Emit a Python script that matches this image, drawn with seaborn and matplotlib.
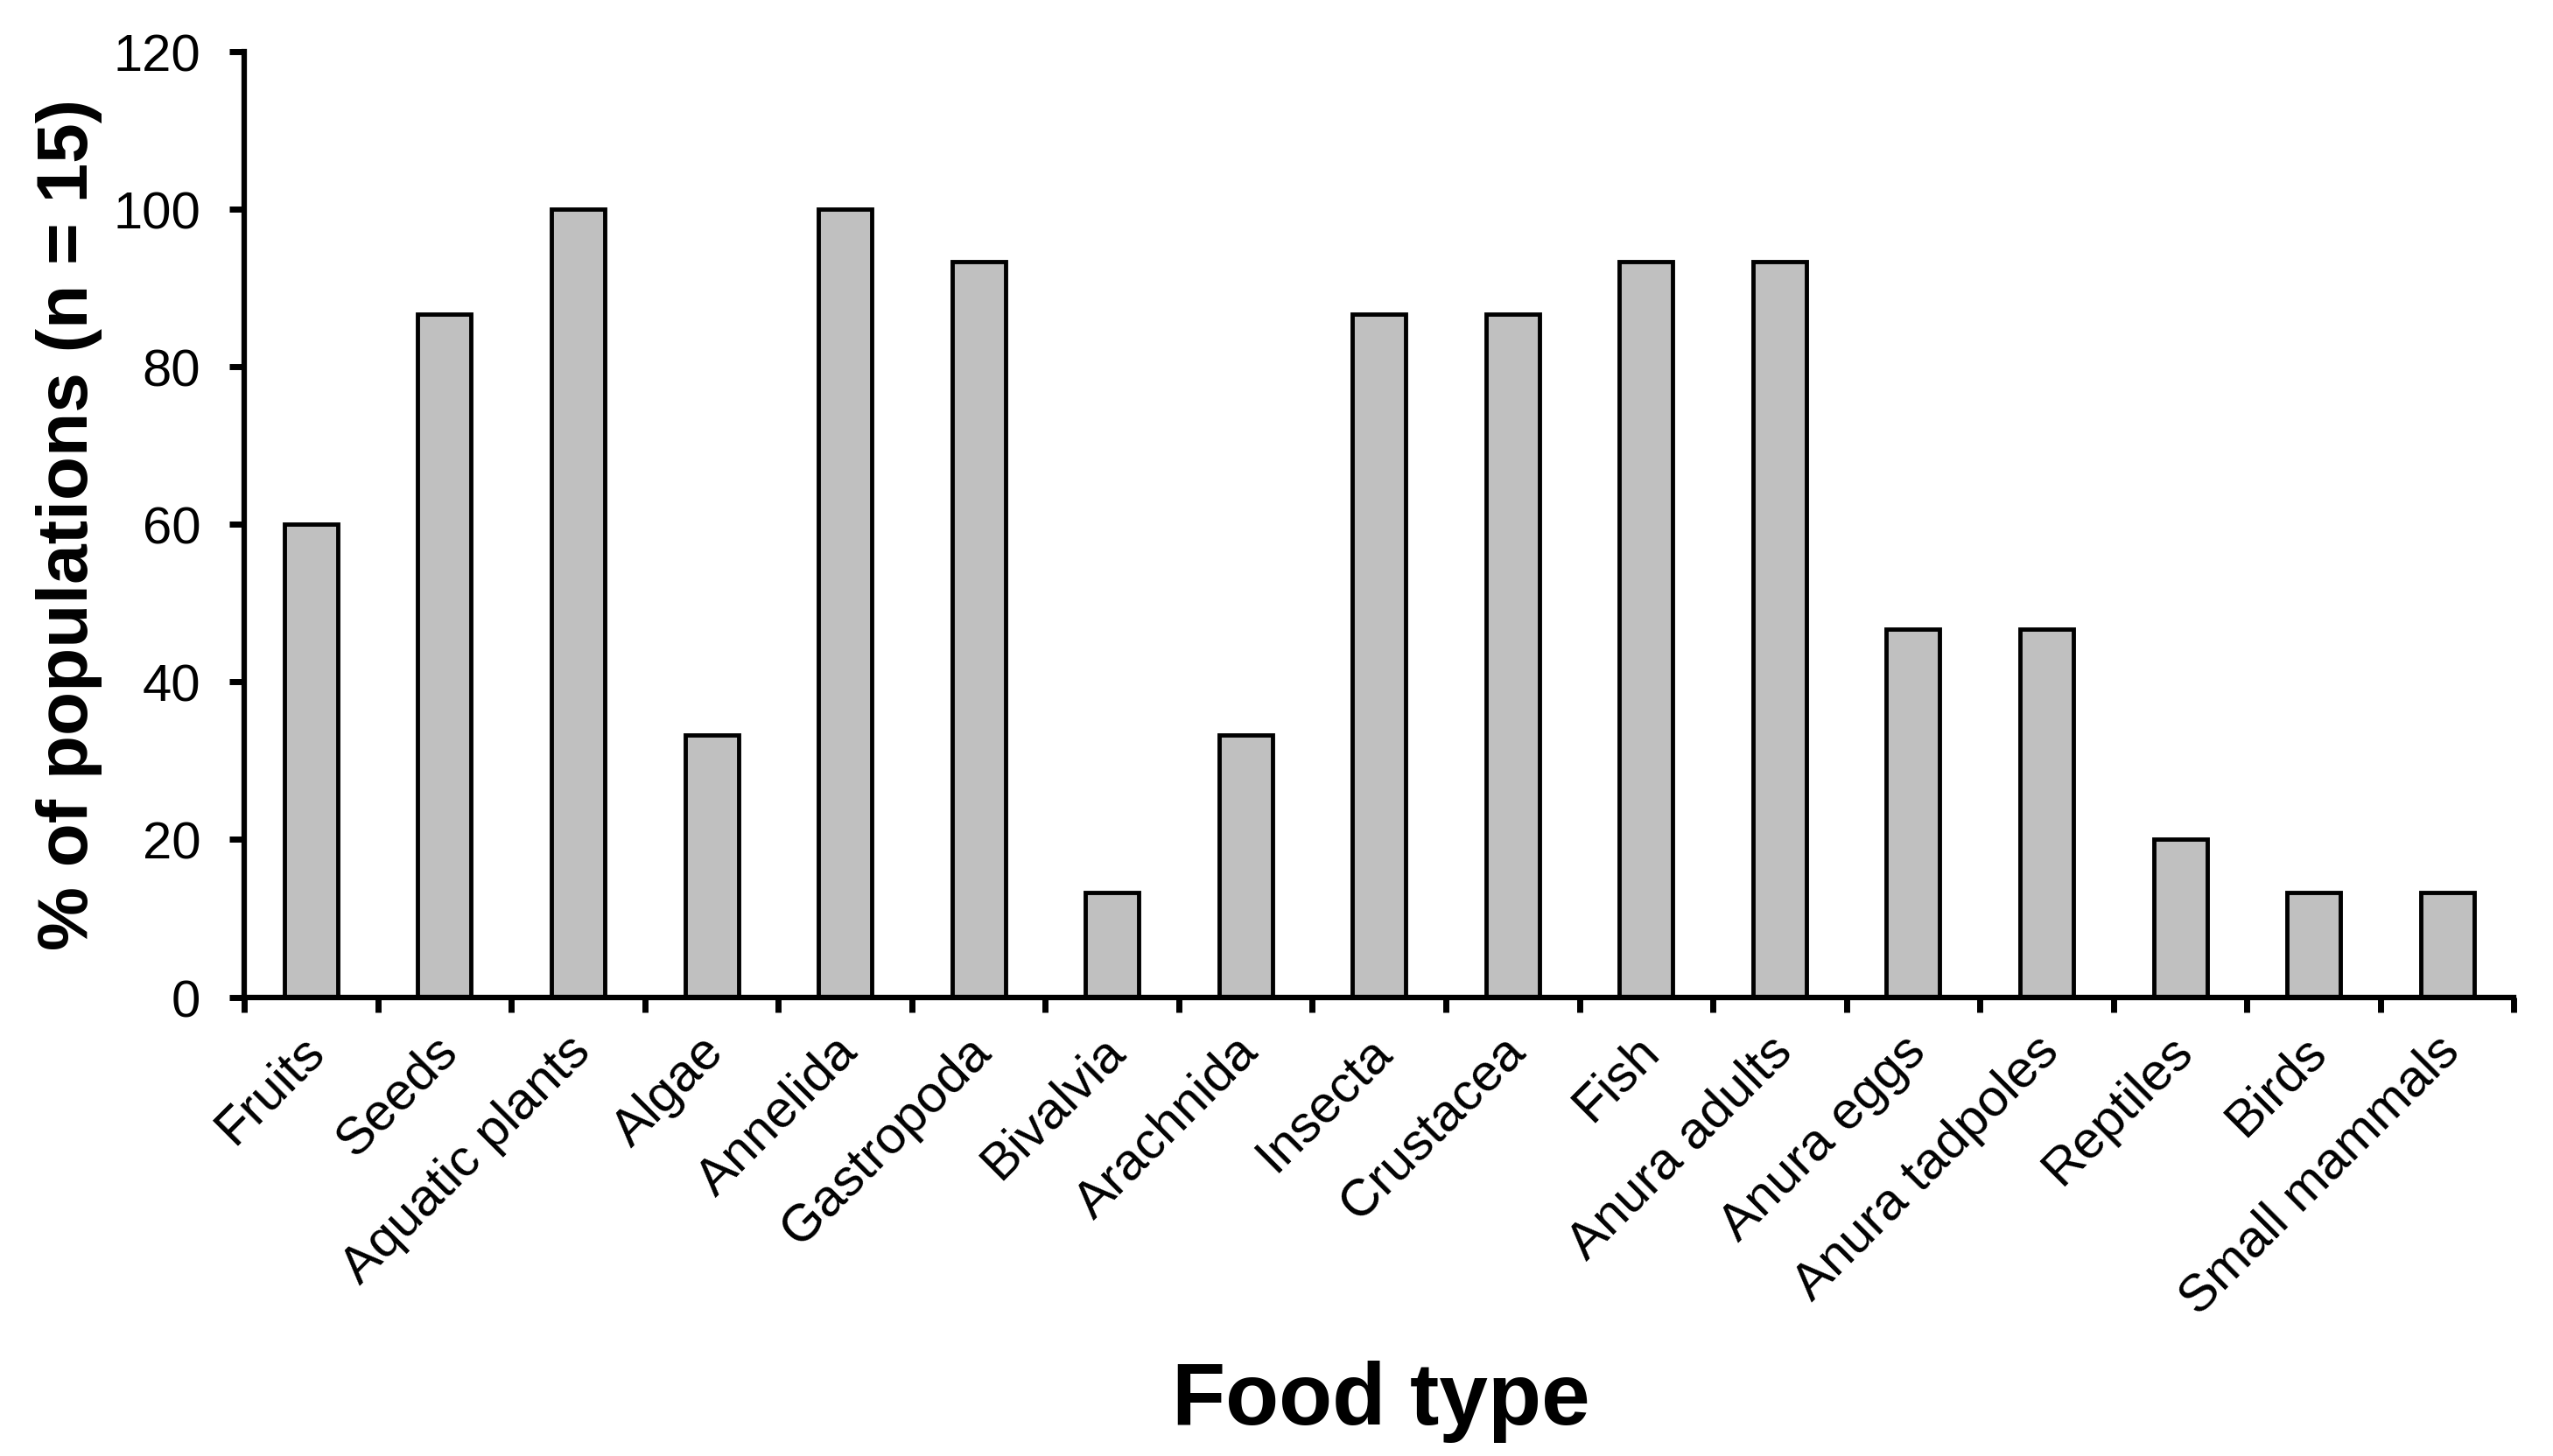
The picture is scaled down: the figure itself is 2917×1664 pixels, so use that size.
import matplotlib
matplotlib.use("Agg")
import matplotlib.pyplot as plt
import matplotlib.transforms as mtransforms
import seaborn as sns
import pandas as pd
import numpy as np

categories = ["Fruits", "Seeds", "Aquatic plants", "Algae", "Annelida", "Gastropoda",
              "Bivalvia", "Arachnida", "Insecta", "Crustacea", "Fish", "Anura adults",
              "Anura eggs", "Anura tadpoles", "Reptiles", "Birds", "Small mammals"]
values = [60.0, 86.7, 100.0, 33.3, 100.0, 93.3, 13.3, 33.3, 86.7, 86.7, 93.3, 93.3,
          46.7, 46.7, 20.0, 13.3, 13.3]
yticks = [0, 20, 40, 60, 80, 100, 120]

sns.set_theme(style="white")
plt.rcParams['font.family'] = ['Liberation Sans', 'DejaVu Sans']
plt.rcParams['text.color'] = 'black'
plt.rcParams['xtick.color'] = 'black'
plt.rcParams['ytick.color'] = 'black'

df = pd.DataFrame({"food": categories, "pct": values})

fig = plt.figure(figsize=(29.17, 16.65), dpi=100)
ax = fig.add_axes([0.0957, 0.315, 0.889, 0.649])

sns.barplot(data=df, x="food", y="pct", order=categories, color="#C0C0C0",
            saturation=1, width=0.4, edgecolor="black", linewidth=3.5, ax=ax)

ax.set_xlim(-0.5, len(categories) - 0.5)
ax.set_ylim(0, 120)
ax.set_yticks(yticks)
ax.set_yticklabels([str(t) for t in yticks], fontsize=43)

ax.set_xticks(np.arange(len(categories)))
ax.set_xticklabels(categories, rotation=45, ha="right", rotation_mode="anchor", fontsize=43)
ax.tick_params(axis="x", which="major", length=0, pad=24)
ax.set_xticks(np.arange(len(categories) + 1) - 0.5, minor=True)
ax.tick_params(axis="x", which="minor", length=12, width=5, direction="out", color="black", bottom=True)
ax.tick_params(axis="y", which="major", length=12, width=5, direction="out", color="black", left=True, pad=24)

offset = mtransforms.ScaledTranslation(-0.14, 0, fig.dpi_scale_trans)
for lab in ax.get_xticklabels():
    lab.set_transform(lab.get_transform() + offset)

for s in ["top", "right"]:
    ax.spines[s].set_visible(False)
for s in ["left", "bottom"]:
    ax.spines[s].set_color("black")
    ax.spines[s].set_linewidth(4.5)

ax.set_xlabel("")
ax.set_ylabel("")
fig.text(0.027, 0.64, "% of populations (n = 15)", rotation=90, ha="center", va="center",
         fontsize=59, fontweight="bold")
fig.text(0.541, 0.022, "Food type", ha="center", va="baseline", fontsize=72, fontweight="bold")

fig.savefig("out.png", dpi=100, facecolor="white")
